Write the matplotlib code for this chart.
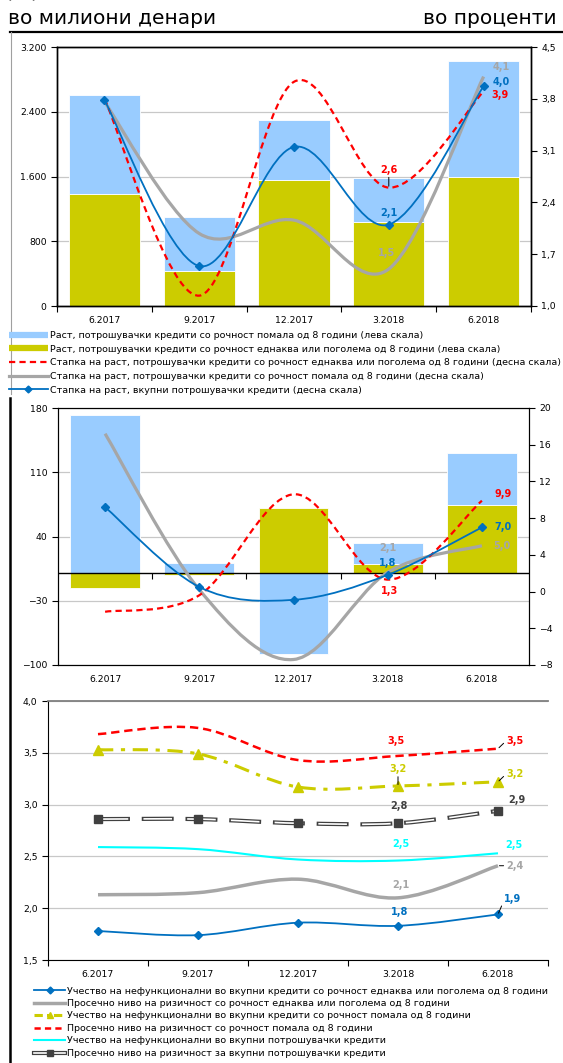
import numpy as np
import matplotlib
matplotlib.use('Agg')
import matplotlib.pyplot as plt
from matplotlib.path import Path
from matplotlib.patches import PathPatch
from matplotlib.lines import Line2D
from matplotlib.ticker import FuncFormatter

plt.rcParams['font.family'] = ['DejaVu Sans']
plt.rcParams['lines.scale_dashes'] = False

# data
cats = ['6.2017', '9.2017', '12.2017', '3.2018', '6.2018']

# chart 1 - growth in millions of denars (left) and rates in % (right)
c1_short = [1227, 664, 737, 536, 1441]
c1_long = [1380, 436, 1557, 1042, 1590]
c1_rate_long = [3.80, 1.14, 4.03, 2.60, 3.90]
c1_rate_short = [3.76, 1.98, 2.16, 1.50, 4.10]
c1_rate_total = [3.78, 1.54, 3.15, 2.10, 3.97]

# chart 2
c2_short = [172, 11, -88, 23, 56]
c2_long = [-16, -2, 71, 9.5, 74.5]
c2_rate_long = [-2.2, -0.4, 10.6, 1.3, 9.9]
c2_rate_short = [17.2, 0.2, -7.4, 2.1, 5.0]
c2_rate_total = [9.2, 0.5, -0.9, 1.82, 7.0]

# chart 3
npl_long = [1.78, 1.74, 1.86, 1.83, 1.94]
risk_long = [2.13, 2.15, 2.28, 2.10, 2.41]
npl_short = [3.53, 3.49, 3.17, 3.18, 3.22]
risk_short = [3.68, 3.74, 3.43, 3.47, 3.54]
npl_total = [2.59, 2.57, 2.47, 2.46, 2.53]
risk_total = [2.86, 2.86, 2.82, 2.82, 2.94]

lab_c1 = ['Раст, потрошувачки кредити со рочност помала од 8 години (лева скала)',
          'Раст, потрошувачки кредити со рочност еднаква или поголема од 8 години (лева скала)',
          'Стапка на раст, потрошувачки кредити со рочност еднаква или поголема од 8 години (десна скала)',
          'Стапка на раст, потрошувачки кредити со рочност помала од 8 години (десна скала)',
          'Стапка на раст, вкупни потрошувачки кредити (десна скала)']
lab_c3 = ['Учество на нефункционални во вкупни кредити со рочност еднаква или поголема од 8 години',
          'Просечно ниво на ризичност со рочност еднаква или поголема од 8 години',
          'Учество на нефункционални во вкупни кредити со рочност помала од 8 години',
          'Просечно ниво на ризичност со рочност помала од 8 години',
          'Учество на нефункционални во вкупни потрошувачки кредити',
          'Просечно ниво на ризичност за вкупни потрошувачки кредити']

LBLUE = '#99CCFF'
YEL = '#CCCC00'
BLUE = '#0070C0'
RED = '#FF0000'
GREY = '#A6A6A6'
CYAN = '#00FFFF'
DARK = '#404040'

W, H = 563, 1063
fig = plt.figure(figsize=(W / 100, H / 100), dpi=100)
x = np.arange(len(cats))
TICK = 6.7
LAB = 7


def add_ax(l, t, r, b):
    return fig.add_axes([l / W, 1 - b / H, (r - l) / W, (b - t) / H])


def smooth(ax, xs, ys, **kw):
    # excel-like smoothed line (catmull-rom as cubic bezier)
    n = len(xs)
    verts = [(xs[0], ys[0])]
    codes = [Path.MOVETO]
    for i in range(n - 1):
        a = max(i - 1, 0)
        d = min(i + 2, n - 1)
        c1 = (xs[i] + (xs[i + 1] - xs[a]) / 6, ys[i] + (ys[i + 1] - ys[a]) / 6)
        c2 = (xs[i + 1] - (xs[d] - xs[i]) / 6, ys[i + 1] - (ys[d] - ys[i]) / 6)
        verts += [c1, c2, (xs[i + 1], ys[i + 1])]
        codes += [Path.CURVE4] * 3
    p = PathPatch(Path(verts, codes), facecolor='none', capstyle='butt', **kw)
    ax.add_patch(p)
    return p


def label(ax, i, v, txt, color, dx, dy, leader=None):
    kw = {}
    if leader is not None:
        kw['arrowprops'] = dict(arrowstyle='-', color='black', lw=0.7,
                                shrinkA=0, shrinkB=1, relpos=leader)
    ax.annotate(txt, (i, v), xytext=(dx, dy), textcoords='offset pixels',
                ha='center', va='center', color=color, fontsize=LAB,
                fontweight='bold', **kw)


def cat_axis(ax):
    ax.set_xlim(-0.5, 4.5)
    ax.set_xticks(np.arange(-0.5, 4.6, 1.0))
    ax.set_xticklabels([])
    ax.set_xticks(x, minor=True)
    ax.set_xticklabels(cats, minor=True, fontsize=TICK)
    ax.tick_params(axis='x', which='major', direction='out', length=4, width=0.8)
    ax.tick_params(axis='x', which='minor', length=0, pad=7)


# ---------------- chart 1 ----------------
ax1 = add_ax(57, 47, 531, 306)
cat_axis(ax1)
ax1.bar(x, c1_long, width=0.75, color=YEL, edgecolor='white', lw=0.6)
ax1.bar(x, c1_short, width=0.75, bottom=c1_long, color=LBLUE, edgecolor='white', lw=0.6)
ax1.set_ylim(0, 3200)
ax1.set_yticks([0, 800, 1600, 2400, 3200])
ax1.yaxis.set_major_formatter(FuncFormatter(lambda v, p: f'{v:,.0f}'.replace(',', '.')))
ax1.yaxis.grid(True, color='#C8C8C8', lw=0.9)
ax1.set_axisbelow(True)
ax1.tick_params(axis='y', labelsize=TICK, length=4, width=0.8)

ax1r = ax1.twinx()
ax1r.set_ylim(1.0, 4.5)
ax1r.set_yticks([1.0, 1.7, 2.4, 3.1, 3.8, 4.5])
ax1r.yaxis.set_major_formatter(FuncFormatter(lambda v, p: f'{v:.1f}'.replace('.', ',')))
ax1r.tick_params(axis='y', labelsize=TICK, length=4, width=0.8)
smooth(ax1r, x, c1_rate_short, edgecolor=GREY, lw=2.3)
smooth(ax1r, x, c1_rate_long, edgecolor=RED, lw=1.6, linestyle=(0, (4.5, 3)))
smooth(ax1r, x, c1_rate_total, edgecolor=BLUE, lw=1.3)
ax1r.plot(x, c1_rate_total, ls='none', marker='D', ms=4, color=BLUE)
for a in (ax1, ax1r):
    for s in a.spines.values():
        s.set_linewidth(1.0)

label(ax1r, 4, c1_rate_short[4], '4,1', GREY, 18, 10)
label(ax1r, 4, c1_rate_total[4], '4,0', BLUE, 18, 4)
label(ax1r, 4, c1_rate_long[4], '3,9', RED, 16, -4)
label(ax1r, 3, c1_rate_long[3], '2,6', RED, 0, 18, leader=(0.5, 0))
label(ax1r, 3, c1_rate_total[3], '2,1', BLUE, 0, 12)
label(ax1r, 3, c1_rate_short[3], '1,5', GREY, -2, 16)

h1 = [Line2D([], [], color=LBLUE, lw=4.5, solid_capstyle='butt'),
      Line2D([], [], color=YEL, lw=4.5, solid_capstyle='butt'),
      Line2D([], [], color=RED, lw=1.6, linestyle=(0, (4.5, 3))),
      Line2D([], [], color=GREY, lw=2.3),
      Line2D([], [], color=BLUE, lw=1.3, marker='D', ms=3.5)]
fig.legend(h1, lab_c1, loc='upper left', bbox_to_anchor=(9 / W, 1 - 331 / H),
           frameon=False, fontsize=6.8, borderpad=0, borderaxespad=0,
           handlelength=4.1, handletextpad=0.25, labelspacing=0.49)

# ---------------- chart 2 ----------------
ax2 = add_ax(58, 408, 529, 665)
cat_axis(ax2)
ax2.tick_params(axis='x', which='major', length=0)
ax2.bar(x, c2_long, width=0.74, color=YEL, edgecolor='white', lw=0.6)
b2 = [l if l * s > 0 else 0 for l, s in zip(c2_long, c2_short)]
ax2.bar(x, c2_short, width=0.74, bottom=b2, color=LBLUE, edgecolor='white', lw=0.6)
ax2.set_ylim(-100, 180)
ax2.set_yticks([-100, -30, 40, 110, 180])
ax2.yaxis.grid(True, color='#C8C8C8', lw=0.9)
ax2.set_axisbelow(True)
ax2.axhline(0, color='black', lw=1.0, zorder=3)
ax2.plot(np.arange(0.5, 4, 1.0), [0] * 4, ls='none', marker=3, ms=4, mew=0.8,
         color='black', zorder=3)
ax2.tick_params(axis='y', labelsize=TICK, length=4, width=0.8)

ax2r = ax2.twinx()
ax2r.set_ylim(-8, 20)
ax2r.set_yticks([-8, -4, 0, 4, 8, 12, 16, 20])
ax2r.tick_params(axis='y', labelsize=TICK, length=4, width=0.8)
smooth(ax2r, x, c2_rate_short, edgecolor=GREY, lw=2.3)
smooth(ax2r, x, c2_rate_long, edgecolor=RED, lw=1.6, linestyle=(0, (4.5, 3)))
smooth(ax2r, x, c2_rate_total, edgecolor=BLUE, lw=1.3)
ax2r.plot(x, c2_rate_total, ls='none', marker='D', ms=4, color=BLUE)

label(ax2r, 4, c2_rate_long[4], '9,9', RED, 21, 7)
label(ax2r, 4, c2_rate_total[4], '7,0', BLUE, 21, 0)
label(ax2r, 4, c2_rate_short[4], '5,0', GREY, 20, 0)
label(ax2r, 3, c2_rate_short[3], '2,1', GREY, 0, 24)
label(ax2r, 3, c2_rate_total[3], '1,8', BLUE, 0, 12)
label(ax2r, 3, c2_rate_long[3], '1,3', RED, 2, -11)

# ---------------- chart 3 ----------------
ax3 = add_ax(48, 701, 548, 960)
cat_axis(ax3)
ax3.set_ylim(1.5, 4.0)
ax3.set_yticks([1.5, 2.0, 2.5, 3.0, 3.5, 4.0])
ax3.yaxis.set_major_formatter(FuncFormatter(lambda v, p: f'{v:.1f}'.replace('.', ',')))
ax3.yaxis.grid(True, color='#C8C8C8', lw=0.9)
ax3.set_axisbelow(True)
ax3.tick_params(axis='y', labelsize=TICK, length=4, width=0.8)
ax3.spines['right'].set_visible(False)
ax3.spines['top'].set_color('#7F7F7F')
ax3.spines['top'].set_linewidth(1.3)

smooth(ax3, x, npl_long, edgecolor=BLUE, lw=1.3)
ax3.plot(x, npl_long, ls='none', marker='D', ms=4, color=BLUE)
smooth(ax3, x, risk_long, edgecolor=GREY, lw=2.5)
smooth(ax3, x, npl_short, edgecolor=YEL, lw=2.2, linestyle=(0, (11, 5.5, 3, 5.5)))
ax3.plot(x, npl_short, ls='none', marker='^', ms=7, color=YEL)
smooth(ax3, x, risk_short, edgecolor=RED, lw=1.8, linestyle=(0, (6, 3.5)))
smooth(ax3, x, npl_total, edgecolor=CYAN, lw=1.5)
smooth(ax3, x, risk_total, edgecolor=DARK, lw=3.0, linestyle=(0, (23, 8.5)))
smooth(ax3, x, risk_total, edgecolor='white', lw=1.2, linestyle=(-1.2, (20.6, 10.9)))
ax3.plot(x, risk_total, ls='none', marker='s', ms=6, color=DARK)

label(ax3, 3, risk_short[3], '3,5', RED, -2, 15)
label(ax3, 4, risk_short[4], '3,5', RED, 17, 8, leader=(0, 0.5))
label(ax3, 3, npl_short[3], '3,2', YEL, 0, 17, leader=(0.5, 0))
label(ax3, 4, npl_short[4], '3,2', YEL, 17, 8, leader=(0, 0.5))
label(ax3, 3, risk_total[3], '2,8', DARK, 1, 17)
label(ax3, 4, risk_total[4], '2,9', DARK, 19, 11)
label(ax3, 3, npl_total[3], '2,5', CYAN, 3, 17)
label(ax3, 4, npl_total[4], '2,5', CYAN, 16, 8)
label(ax3, 3, risk_long[3], '2,1', GREY, 3, 13)
label(ax3, 4, risk_long[4], '2,4', GREY, 17, 0, leader=(0, 0.5))
label(ax3, 3, npl_long[3], '1,8', BLUE, 2, 14)
label(ax3, 4, npl_long[4], '1,9', BLUE, 15, 15, leader=(0, 0.5))

h3 = [Line2D([], [], color=BLUE, lw=1.3, marker='D', ms=3.5),
      Line2D([], [], color=GREY, lw=2.5),
      Line2D([], [], color=YEL, lw=2.2, linestyle=(0, (6, 3, 2, 3)), marker='^', ms=5),
      Line2D([], [], color=RED, lw=1.8, linestyle=(0, (4.5, 3))),
      Line2D([], [], color=CYAN, lw=1.5),
      (Line2D([], [], color=DARK, lw=3.0),
       Line2D([], [], color='white', lw=1.2),
       Line2D([], [], ls='none', marker='s', ms=5, color=DARK))]
fig.legend(h3, lab_c3, loc='upper left', bbox_to_anchor=(34 / W, 1 - 986.5 / H),
           frameon=False, fontsize=6.8, borderpad=0, borderaxespad=0,
           handlelength=3.3, handletextpad=0.15, labelspacing=0.37)

# headers and frame lines
fig.text(8 / W, 1 - 18 / H, 'во милиони денари', fontsize=14.5, va='center', ha='left')
fig.text(557 / W, 1 - 18 / H, 'во проценти', fontsize=14.5, va='center', ha='right')
fig.text(4 / W, 1 + 2 / H, '(...)', fontsize=14.5, va='baseline', ha='left')
fig.add_artist(Line2D([10 / W, 1], [1 - 32 / H, 1 - 32 / H], color='black', lw=1.6))
fig.add_artist(Line2D([11 / W, 11 / W], [1 - 32 / H, 1 - 394 / H], color='#A0A0A0', lw=0.8))
fig.add_artist(Line2D([9.5 / W, 9.5 / W], [1 - 398 / H, 0], color='black', lw=1.8))

fig.savefig('out.png', dpi=100)
